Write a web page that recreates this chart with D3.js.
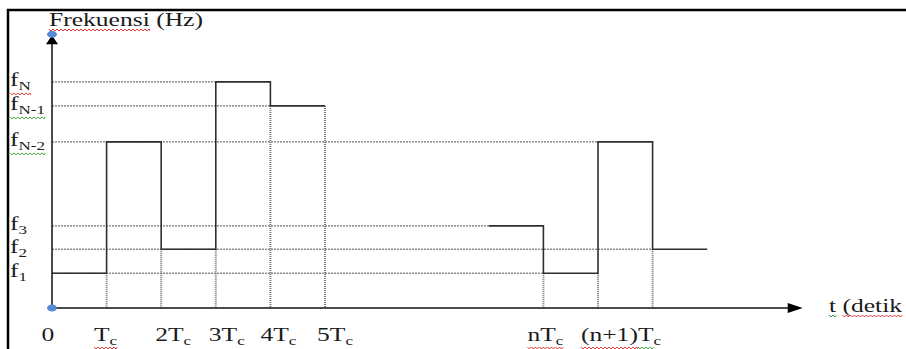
<!DOCTYPE html>
<html lang="id">
  <head>
    <meta charset="utf-8" />
    <title>Frekuensi hopping</title>
    <script src="https://cdnjs.cloudflare.com/ajax/libs/d3/7.8.5/d3.min.js"></script>
    <style type="text/css">
      body { margin: 0; background: #fff; }
      text { font-family: "Liberation Serif", "DejaVu Serif", serif; fill: #1b1b1b; }
      .guide { stroke: #555; stroke-width: 1; stroke-dasharray: 2, 1; fill: none; }
      .drop { stroke: #777; stroke-width: 2; stroke-dasharray: 1, 1; fill: none; }
      .signal { stroke: #2e2e2e; stroke-width: 1.6; fill: none; }
      .axis-line { stroke: #111; stroke-width: 1.5; fill: none; }
    </style>
  </head>
  <body>
    <div id="chart"></div>
    <script>
      // frequency levels (schematic heights)
      const levelNames = ['f1', 'f2', 'f3', 'fN-2', 'fN-1', 'fN'];
      const levelSubs = ['1', '2', '3', 'N-2', 'N-1', 'N'];
      const levelValues = [1.45, 2.45, 3.42, 6.92, 8.42, 9.42];

      // hops: start, end (in Tc units) and the level used
      const hopStart = [0, 1, 2, 3, 4, 8, 9, 10, 11];
      const hopEnd = [1, 2, 3, 4, 5, 9, 10, 11, 12];
      const hopLevel = ['f1', 'fN-2', 'f2', 'fN', 'fN-1', 'f3', 'f1', 'fN-2', 'f2'];

      // time tick labels
      const tickTimes = [0, 1, 2, 3, 4, 5, 9, 10];
      const tickBase = ['0', 'T', '2T', '3T', '4T', '5T', 'nT', '(n+1)T'];
      const tickSubs = ['', 'c', 'c', 'c', 'c', 'c', 'c', 'c'];

      const yTitle = 'Frekuensi (Hz)';
      const xTitle = 't (detik'; // the closing bracket falls outside the picture

      const width = 906;
      const height = 349;
      const sx = 1.42; // the source picture is stretched sideways
      const labelShift = [-4, -1, 12, 11, 8, 10, 2, 23];

      const levelOf = {};
      levelNames.forEach((n, i) => { levelOf[n] = levelValues[i]; });

      const svg = d3.select('#chart').append('svg')
        .attr('width', width)
        .attr('height', height);

      const x = d3.scaleLinear().domain([0, 14]).range([52, 816.4]);
      const y = d3.scaleLinear().domain([0, 11.5]).range([308, 32]);

      // page frame (top and left edges only)
      svg.append('path')
        .attr('d', `M8,${height} V10 H${width}`)
        .attr('fill', 'none')
        .attr('stroke', '#000')
        .attr('stroke-width', 2.5);

      // horizontal dotted guides: from the axis to the last hop on that level
      levelNames.forEach(name => {
        const starts = hopStart.filter((s, i) => hopLevel[i] === name);
        svg.append('line')
          .attr('class', 'guide')
          .attr('x1', x(0)).attr('x2', x(d3.max(starts)))
          .attr('y1', y(levelOf[name])).attr('y2', y(levelOf[name]));
      });

      // vertical dotted drops at hop boundaries
      hopEnd.slice(0, -1).forEach((e, i) => {
        let lv = levelOf[hopLevel[i]];
        if (hopStart[i + 1] === e) lv = Math.min(lv, levelOf[hopLevel[i + 1]]);
        svg.append('line')
          .attr('class', 'drop')
          .attr('x1', x(e)).attr('x2', x(e))
          .attr('y1', y(lv)).attr('y2', y(0));
      });

      // signal as step line, broken where hops are not contiguous
      const pts = [];
      hopStart.forEach((s, i) => {
        if (i > 0 && hopEnd[i - 1] !== s) {
          pts.push({ t: hopEnd[i - 1], v: levelOf[hopLevel[i - 1]] });
          pts.push({ t: null, v: null });
        }
        pts.push({ t: s, v: levelOf[hopLevel[i]] });
      });
      pts.push({ t: hopEnd[hopEnd.length - 1], v: levelOf[hopLevel[hopLevel.length - 1]] });

      const step = d3.line()
        .defined(d => d.t !== null)
        .curve(d3.curveStepAfter)
        .x(d => x(d.t))
        .y(d => y(d.v));

      svg.append('path')
        .datum(pts)
        .attr('class', 'signal')
        .attr('d', step);

      // axes with arrow heads
      const xEnd = x(13.75);
      const yTop = y(11.36);
      svg.append('line').attr('class', 'axis-line')
        .attr('x1', x(0)).attr('x2', xEnd - 12).attr('y1', y(0)).attr('y2', y(0));
      svg.append('path')
        .attr('d', `M${xEnd},${y(0)} L${xEnd - 15},${y(0) - 5} L${xEnd - 15},${y(0) + 5} Z`)
        .attr('fill', '#000');
      svg.append('line').attr('class', 'axis-line')
        .attr('x1', x(0)).attr('x2', x(0)).attr('y1', y(0)).attr('y2', yTop + 8);
      svg.append('path')
        .attr('d', `M${x(0)},${yTop} L${x(0) - 6},${yTop + 9} L${x(0) + 6},${yTop + 9} Z`)
        .attr('fill', '#000');

      // selection handles
      svg.append('ellipse').attr('cx', x(0)).attr('cy', yTop - 1).attr('rx', 5).attr('ry', 3.5).attr('fill', '#5a8ad6');
      svg.append('ellipse').attr('cx', x(0)).attr('cy', y(0)).attr('rx', 5).attr('ry', 3.5).attr('fill', '#5a8ad6');

      function addLabel(px, py, base, sub, anchor) {
        const t = svg.append('text')
          .attr('transform', `translate(${px},${py}) scale(${sx},1)`)
          .attr('text-anchor', anchor)
          .attr('font-size', 18);
        t.append('tspan').text(base);
        if (sub) t.append('tspan').attr('font-size', 12).attr('dy', 4).text(sub);
        return t.node();
      }

      // wavy spell-check underline below chars [a, b)
      function squiggle(node, a, b, color, dy) {
        const m = node.getCTM();
        const p = node.getExtentOfChar(a);
        const q = node.getExtentOfChar(b - 1);
        const x1 = p.x * m.a + m.e;
        const x2 = (q.x + q.width) * m.a + m.e;
        const yy = m.f + dy;
        let d = `M${x1},${yy}`;
        for (let xx = x1, k = 0; xx < x2; xx += 2, k++) {
          d += ` L${Math.min(xx + 2, x2)},${yy + (k % 2 ? 0 : 2)}`;
        }
        svg.append('path').attr('d', d).attr('fill', 'none')
          .attr('stroke', color).attr('stroke-width', 1);
      }
      const red = '#e23a3a';
      const green = '#3f9f3f';

      // y level labels
      levelNames.forEach((name, i) => {
        const node = addLabel(10, y(levelValues[i]) + 4, 'f', levelSubs[i], 'start');
        if (name === 'fN') squiggle(node, 0, 2, red, 7);
        if (name === 'fN-1' || name === 'fN-2') squiggle(node, 0, 4, green, 7);
      });

      // time labels
      tickTimes.forEach((t, i) => {
        const node = addLabel(x(t) + labelShift[i], y(0) + 33, tickBase[i], tickSubs[i], 'middle');
        if (tickBase[i] === 'T') squiggle(node, 0, 2, red, 6);
        if (tickBase[i] === 'nT') squiggle(node, 0, 3, red, 6);
        if (tickBase[i] === '(n+1)T') {
          squiggle(node, 0, 5, red, 6);
          squiggle(node, 5, 6, green, 6);
        }
      });

      // axis titles
      const yt = addLabel(49, 26, yTitle, '', 'start');
      squiggle(yt, 0, 9, red, 3);
      const xt = addLabel(829, 312, xTitle, '', 'start');
      squiggle(xt, 0, 1, green, 3);
      squiggle(xt, 2, 8, red, 3);
    </script>
  </body>
</html>
